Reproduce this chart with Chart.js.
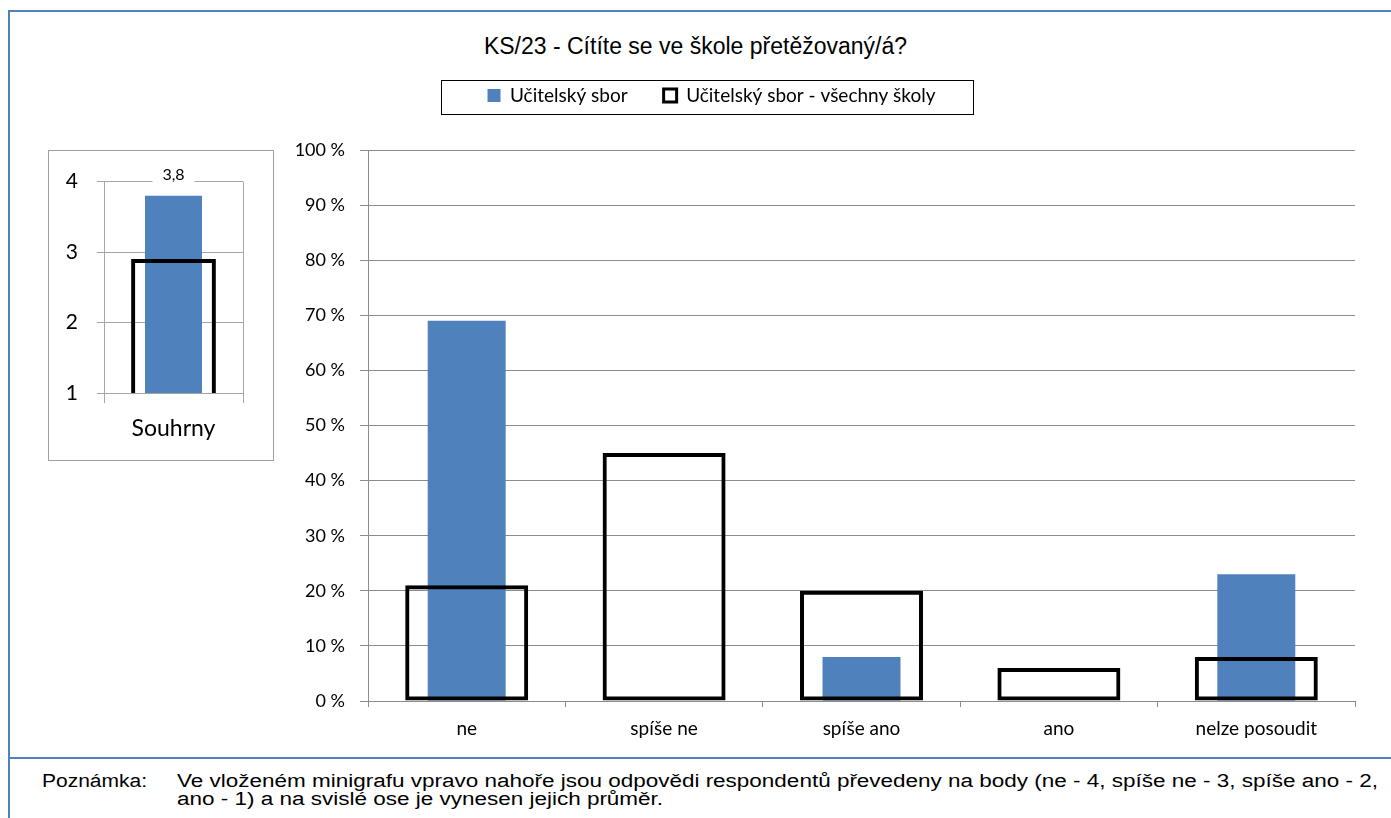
<!DOCTYPE html>
<html>
<head>
<meta charset="utf-8">
<script src="https://cdn.jsdelivr.net/npm/chart.js@4/dist/chart.umd.min.js"></script>
<style>
  html, body { margin: 0; padding: 0; background: #fff; }
  body { width: 1391px; height: 818px; position: relative; overflow: hidden; }
  .line { position: absolute; background: #4F81BD; }
  #title { position: absolute; left: 0; top: 35px; width: 1391px; text-align: center;
           font-family: "Liberation Sans", Arial, sans-serif; font-size: 23px; line-height: 23px; color: #000; }
  #mainWrap { position: absolute; left: 0; top: 0; width: 1391px; height: 762px; }
  #miniBox { position: absolute; left: 48px; top: 150px; width: 226px; height: 311px; box-sizing: border-box;
             border: 1px solid #A0A0A0; }
  #miniWrap { position: absolute; left: 48px; top: 150px; width: 226px; height: 311px; }
  .note { position: absolute; font-family: "Liberation Sans", Arial, sans-serif; font-size: 18px;
          line-height: 18px; color: #000; white-space: nowrap; transform-origin: 0 0; }
</style>
</head>
<body>
<div class="line" style="left:8px; top:10px; width:1383px; height:2px;"></div>
<div class="line" style="left:8px; top:10px; width:2px; height:808px;"></div>
<div class="line" style="left:8px; top:757px; width:1383px; height:2px;"></div>
<div id="title">KS/23 - Cítíte se ve škole přetěžovaný/á?</div>
<div id="miniBox"></div>
<div id="mainWrap"><canvas id="main" width="1391" height="762"></canvas></div>
<div id="miniWrap"><canvas id="mini" width="226" height="311"></canvas></div>
<div class="note" id="noteLabel" style="left:42px; top:772px;">Poznámka:</div>
<div class="note" id="noteText" style="left:177px; top:772px;">Ve vloženém minigrafu vpravo nahoře jsou odpovědi respondentů převedeny na body (ne - 4, spíše ne - 3, spíše ano - 2,<br>ano - 1) a na svislé ose je vynesen jejich průměr.</div>
<script>
// ---- data ----
const categories = ['ne', 'spíše ne', 'spíše ano', 'ano', 'nelze posoudit'];
const seriesNames = ['Učitelský sbor', 'Učitelský sbor - všechny školy'];
const schoolValues = [69, 0, 8, 0, 23];
const allSchoolsValues = [21, 45, 20, 6, 8];
const yTicksPercent = [0, 10, 20, 30, 40, 50, 60, 70, 80, 90, 100];
const miniCategories = ['Souhrny'];
const miniSchool = [3.8];
const miniAllSchools = [2.9];
const miniTicks = [1, 2, 3, 4];

// ---- styles ----
const BLUE = '#4F81BD';
const GRID = '#8C8C8C';
const GRID_MINI = '#A6A6A6';
const FONT = 'Lato, "Open Sans", sans-serif';

// footnote stretch to match reference widths
(function () {
  const t = document.getElementById('noteText');
  const l = document.getElementById('noteLabel');
  const s1 = 1201 / t.getBoundingClientRect().width;
  t.style.transform = 'scaleX(' + s1 + ')';
  const s2 = 105 / l.getBoundingClientRect().width;
  l.style.transform = 'scaleX(' + s2 + ')';
})();

const legendSizer = {
  id: 'legendSizer',
  beforeInit(chart) {
    if (!chart.legend) return;
    const fit = chart.legend.fit;
    chart.legend.fit = function () {
      fit.bind(chart.legend)();
      this.height = 100;
    };
  }
};

const legendFrame = {
  id: 'legendFrame',
  afterDraw(chart) {
    const lg = chart.legend;
    if (!lg || !lg.legendHitBoxes || !lg.legendHitBoxes.length) return;
    const hb = lg.legendHitBoxes;
    const first = hb[0], last = hb[hb.length - 1];
    const x0 = first.left - 47, x1 = last.left + last.width + 37;
    const ctx = chart.ctx;
    ctx.save();
    ctx.strokeStyle = '#000';
    ctx.lineWidth = 1;
    ctx.strokeRect(Math.round(x0) + 0.5, 80.5, Math.round(x1 - x0), 34);
    ctx.restore();
  }
};

new Chart(document.getElementById('main'), {
  type: 'bar',
  data: {
    labels: categories,
    datasets: [
      {
        label: seriesNames[0],
        data: schoolValues,
        backgroundColor: BLUE,
        borderWidth: 0,
        grouped: false,
        categoryPercentage: 1,
        barPercentage: 0.395,
        order: 1
      },
      {
        label: seriesNames[1],
        data: allSchoolsValues,
        backgroundColor: 'rgba(255,255,255,0)',
        borderColor: '#000',
        borderWidth: 4,
        borderSkipped: false,
        grouped: false,
        categoryPercentage: 1,
        barPercentage: 0.623,
        order: 0
      }
    ]
  },
  options: {
    responsive: false,
    animation: false,
    layout: { padding: { top: 50, left: 68, right: 36, bottom: 0 } },
    plugins: {
      title: { display: false },
      tooltip: { enabled: false },
      legend: {
        display: true,
        position: 'top',
        labels: {
          sort: (a, b) => a.datasetIndex - b.datasetIndex,
          boxWidth: 13,
          boxHeight: 13,
          padding: 36,
          color: '#000',
          font: { family: FONT, size: 19 },
          generateLabels(chart) {
            return chart.data.datasets.map((ds, i) => ({
              text: ds.label,
              fillStyle: i === 0 ? BLUE : '#fff',
              strokeStyle: i === 0 ? BLUE : '#000',
              lineWidth: i === 0 ? 0 : 3,
              datasetIndex: i,
              hidden: false,
              fontColor: '#000'
            }));
          }
        }
      }
    },
    scales: {
      x: {
        offset: true,
        afterFit(scale) { scale.height = 61; },
        grid: {
          offset: true,
          drawOnChartArea: true,
          color: (c) => (c.index === categories.length ? GRID : 'rgba(0,0,0,0)'),
          tickColor: GRID,
          tickLength: 6,
          lineWidth: 1
        },
        border: { color: GRID, width: 1 },
        ticks: { color: '#000', font: { family: FONT, size: 19 }, padding: 10, maxRotation: 0 }
      },
      y: {
        min: 0,
        max: 100,
        afterFit(scale) { scale.width = 300; },
        afterBuildTicks(scale) { scale.ticks = yTicksPercent.map(v => ({ value: v })); },
        grid: { color: GRID, tickColor: GRID, tickLength: 8, lineWidth: 1 },
        border: { color: GRID, width: 1 },
        ticks: {
          color: '#000',
          font: { family: FONT, size: 18 },
          padding: 15,
          callback: (v) => v + ' %'
        }
      }
    }
  },
  plugins: [legendSizer, legendFrame]
});

const miniLabel = {
  id: 'miniLabel',
  afterDatasetsDraw(chart) {
    const meta = chart.getDatasetMeta(0);
    const ctx = chart.ctx;
    meta.data.forEach((bar, i) => {
      const txt = String(miniSchool[i]).replace('.', ',');
      ctx.save();
      ctx.font = '16px ' + FONT;
      const y = bar.y - 21;
      ctx.fillStyle = '#fff';
      ctx.fillRect(bar.x - 21, y - 10, 42, 20);
      ctx.fillStyle = '#000';
      ctx.textAlign = 'center';
      ctx.textBaseline = 'middle';
      ctx.fillText(txt, bar.x, y);
      ctx.restore();
    });
  }
};

new Chart(document.getElementById('mini'), {
  type: 'bar',
  data: {
    labels: miniCategories,
    datasets: [
      {
        label: seriesNames[0],
        data: miniSchool,
        backgroundColor: BLUE,
        borderWidth: 0,
        grouped: false,
        categoryPercentage: 1,
        barPercentage: 0.41,
        order: 1
      },
      {
        label: seriesNames[1],
        data: miniAllSchools,
        backgroundColor: 'rgba(255,255,255,0)',
        borderColor: '#000',
        borderWidth: 4,
        borderSkipped: false,
        grouped: false,
        categoryPercentage: 1,
        barPercentage: 0.61,
        order: 0
      }
    ]
  },
  options: {
    responsive: false,
    animation: false,
    layout: { padding: { top: 31, left: 0, right: 31, bottom: 0 } },
    plugins: { legend: { display: false }, tooltip: { enabled: false }, title: { display: false } },
    scales: {
      x: {
        offset: true,
        afterFit(scale) { scale.height = 68; },
        grid: { offset: true, color: GRID_MINI, tickColor: GRID_MINI, tickLength: 10, lineWidth: 1 },
        border: { color: GRID_MINI, width: 1 },
        ticks: { color: '#000', font: { family: FONT, size: 23 }, padding: 12 }
      },
      y: {
        min: 1,
        max: 4,
        afterFit(scale) { scale.width = 56; },
        afterBuildTicks(scale) { scale.ticks = miniTicks.map(v => ({ value: v })); },
        grid: { color: GRID_MINI, tickColor: GRID_MINI, tickLength: 7, lineWidth: 1 },
        border: { color: GRID_MINI, width: 1 },
        ticks: { color: '#000', font: { family: FONT, size: 21 }, padding: 19 }
      }
    }
  },
  plugins: [miniLabel]
});
</script>
</body>
</html>
